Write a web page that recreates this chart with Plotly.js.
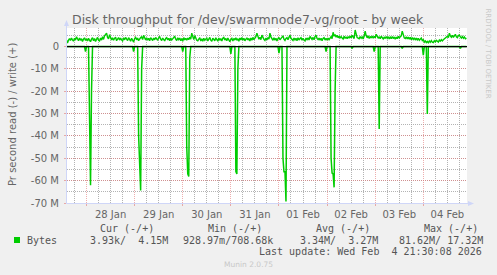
<!DOCTYPE html>
<html><head><meta charset="utf-8">
<script src="https://cdn.plot.ly/plotly-3.0.1.min.js"></script>
<style>html,body{margin:0;padding:0;background:#F0F0F0;}#chart{width:497px;height:275px;}</style>
</head><body><div id="chart"></div>
<script>
// Write (+) throughput, MB/s, one value per 30 min from 2026-01-27 14:00
const writeM = [
2.9,1.6,2.8,3.6,2.7,3.8,3.0,2.4,3.7,2.9,4.4,3.1,2.6,3.8,2.8,3.5,2.3,3.3,3.9,2.7,
3.5,2.5,3.7,2.8,2.2,3.3,4.0,2.6,3.6,2.3,3.4,4.1,2.8,2.5,3.8,2.9,4.4,3.2,4.8,5.2,
6.0,4.1,3.4,5.3,3.7,2.9,3.9,2.8,3.7,4.2,2.6,3.6,4.0,2.9,3.8,3.0,2.5,3.9,3.0,4.1,
3.2,2.7,4.0,3.1,2.4,3.7,2.9,2.0,3.6,4.1,3.0,3.8,2.6,3.7,4.0,4.3,3.1,5.0,3.4,2.9,
3.9,2.8,3.7,2.6,4.0,3.1,2.7,3.8,3.0,4.1,3.2,2.8,3.9,4.4,3.3,2.7,3.8,3.1,2.5,3.6,
4.0,3.0,3.7,2.6,3.8,2.9,3.6,4.1,4.6,3.3,2.7,3.9,3.1,3.8,2.6,3.6,2.4,4.0,3.0,3.7,
2.8,3.8,3.1,4.2,3.3,6.0,4.4,3.1,4.9,3.4,2.8,2.6,3.6,4.0,2.5,3.5,2.4,3.7,2.8,3.4,
3.8,2.5,3.6,4.1,2.9,2.3,3.7,3.0,2.6,3.9,3.1,2.4,3.8,2.8,3.6,2.5,3.7,4.1,2.9,3.6,
2.6,3.8,3.0,2.2,3.2,3.7,2.5,3.6,2.9,3.9,2.8,3.5,2.4,3.8,3.0,4.0,2.8,3.7,2.6,3.5,
3.9,2.9,3.6,2.5,3.8,2.8,4.1,3.1,3.7,4.4,6.0,4.2,3.3,4.1,3.1,5.1,3.6,3.2,2.7,3.8,
3.0,4.0,3.3,6.0,4.3,3.2,2.8,3.9,2.8,3.7,2.5,3.5,4.1,3.0,3.8,4.3,4.8,3.3,2.7,3.6,
4.0,3.1,4.1,5.1,3.7,3.2,2.7,3.8,3.0,3.7,2.6,3.9,2.9,3.6,4.0,2.8,3.7,3.0,2.5,3.8,
3.1,3.9,2.9,4.5,3.8,3.2,4.1,3.0,4.5,5.1,3.6,3.1,3.8,2.8,3.7,2.6,3.6,4.0,2.9,3.7,
2.8,3.8,3.1,4.1,4.4,3.5,6.4,4.6,5.4,4.2,5.0,3.9,4.7,3.7,4.5,3.8,3.4,4.6,3.6,4.4,
3.5,4.5,3.7,4.7,3.9,5.0,4.0,3.6,7.4,5.6,4.0,3.8,3.5,4.5,3.7,4.3,3.4,4.6,6.9,4.9,
3.9,4.8,3.6,4.5,3.8,4.7,3.7,4.6,3.9,5.5,4.1,3.7,4.4,3.5,4.6,3.8,3.4,4.3,3.6,4.5,
3.7,4.4,3.4,4.2,3.5,4.5,3.6,4.3,3.3,4.2,3.5,4.6,3.7,4.4,4.8,6.9,5.0,3.9,3.6,4.4,
3.4,4.2,3.3,4.1,3.1,4.0,3.2,3.9,2.9,3.8,3.0,3.7,2.8,3.5,3.8,2.7,3.1,2.0,2.5,1.8,
2.3,1.7,2.5,1.9,2.7,2.0,1.8,2.6,2.1,2.8,2.3,2.0,2.9,2.4,3.1,2.5,3.0,3.4,3.9,4.3,
4.6,4.0,6.0,4.8,4.2,5.0,4.1,4.8,5.5,4.4,4.0,4.9,5.2,4.3,3.8,4.5,3.7,4.3,3.5,3.8
];
// Read (-) throughput, MB/s, at listed 30-min slot numbers (zero between)
const readSlot = [0, 18,19,20, 22,23,24,25,26, 66,67,68, 71,72,73,74,75,76,
  115,116,117, 119,120,121,122,123,124, 163,164,165, 168,169,170,171,172,
  211,212,213, 215,216,217,218,219,220, 258,259,260, 263,264,265,266,267,268,269,
  284,285,286, 306,307,308, 311,312,313, 334,335,336, 355,356,357, 359,360,361,
  392,393,394, 399];
const readM = [0, 0,-2.3,0, 0,-45,-62,-20,0, 0,-2.3,0, 0,-40,-58,-64.4,-10,0,
  0,-2.3,0, 0,-45,-57,-58.1,-5,0, 0,-3.3,0, 0,-56,-57,-10,0,
  0,-3,0, 0,-50,-56,-56,-69.3,0, 0,-2.3,0, 0,-50,-56.6,-57,-63,-20,0,
  0,-0.8,0, 0,-2.3,0, 0,-36.9,0, 0,-0.8,0, 0,-3.8,0, 0,-30.2,0,
  0,-0.8,0, 0];
const yTickVals = [-70,-60,-50,-40,-30,-20,-10,0];
const yTickText = ['-70 M','-60 M','-50 M','-40 M','-30 M','-20 M','-10 M','0'];
const legendHeads = ['Cur (-/+)','Min (-/+)','Avg (-/+)','Max (-/+)'];
const legendVals = ['3.93k/  4.15M','928.97m/708.68k','3.34M/  3.27M','81.62M/ 17.32M'];
const seriesName = 'Bytes';
const lastUpdate = 'Last update: Wed Feb  4 21:30:08 2026';

const startMs = Date.UTC(2026,0,27,14,0);
const slotTime = i => new Date(startMs + i*1800000).toISOString().slice(0,16).replace('T',' ');

const W=497,H=275,L=67,R=30,T=28,B=72;
const pw=W-L-R, ph=H-T-B;
const px = x => (x-L)/pw;
const py = y => (H-B-y)/ph;
const nb = s => s.replace(/ /g,'\u00A0');

const green='#00CC00', fontc='#666666', axisc='#CFD6F8';
const mgrid='rgba(225,120,120,0.6)', grid='rgba(160,160,160,0.8)';

const traces=[
 {x: writeM.map((_,i)=>slotTime(i)), y: writeM, type:'scatter', mode:'lines', line:{color:green,width:1.4}, hoverinfo:'skip'},
 {x: readSlot.map(slotTime), y: readM, type:'scatter', mode:'lines', line:{color:green,width:1.5}, hoverinfo:'skip'}
];

const ann=[];
ann.push({text:'Disk throughput for /dev/swarmnode7-vg/root - by week', xref:'paper',yref:'paper',
  x:px(248),y:py(19),xanchor:'center',yanchor:'middle',showarrow:false,font:{family:'DejaVu Sans',size:12.5,color:fontc}});
ann.push({text:'Pr second read (-) / write (+)', xref:'paper',yref:'paper',textangle:-90,
  x:px(12),y:py(114),xanchor:'center',yanchor:'middle',showarrow:false,font:{family:'DejaVu Sans',size:10,color:fontc}});
ann.push({text:'RRDTOOL / TOBI OETIKER', xref:'paper',yref:'paper',textangle:90,
  x:px(487.5),y:py(53),xanchor:'center',yanchor:'middle',showarrow:false,font:{family:'DejaVu Sans',size:7,color:'#C8C8C8'}});
const headX=[99,207,315,423], valX=[89,182,299,398];
legendHeads.forEach((h,k)=>ann.push({text:nb(h),xref:'paper',yref:'paper',x:px(headX[k]),y:py(228),xanchor:'left',yanchor:'middle',
  showarrow:false,borderpad:0,font:{family:'DejaVu Sans Mono',size:10,color:'#555'}}));
legendVals.forEach((v,k)=>ann.push({text:nb(v),xref:'paper',yref:'paper',x:px(valX[k]),y:py(240),xanchor:'left',yanchor:'middle',
  showarrow:false,borderpad:0,font:{family:'DejaVu Sans Mono',size:10,color:'#555'}}));
ann.push({text:seriesName,xref:'paper',yref:'paper',x:px(26),y:py(240),xanchor:'left',yanchor:'middle',showarrow:false,borderpad:0,font:{family:'DejaVu Sans Mono',size:10,color:'#555'}});
ann.push({text:nb(lastUpdate),xref:'paper',yref:'paper',x:px(483),y:py(251),xanchor:'right',yanchor:'middle',showarrow:false,borderpad:0,font:{family:'DejaVu Sans Mono',size:10,color:'#555'}});
ann.push({text:'Munin 2.0.75',xref:'paper',yref:'paper',x:px(248),y:py(264),xanchor:'center',yanchor:'middle',showarrow:false,borderpad:0,font:{family:'DejaVu Sans',size:7.5,color:'#C8C8C8'}});

const shapes=[
 {type:'line',xref:'paper',yref:'y',x0:0,x1:1,y0:0,y1:0,line:{color:'#000',width:1.3},layer:'above'},
 {type:'line',xref:'paper',yref:'paper',x0:px(66.5),x1:px(66.5),y0:py(203.5),y1:py(24),line:{color:axisc,width:1},layer:'above'},
 {type:'path',xref:'paper',yref:'paper',path:`M ${px(66.5)} ${py(20)} L ${px(64)} ${py(26)} L ${px(69)} ${py(26)} Z`,fillcolor:axisc,line:{width:0},layer:'above'},
 {type:'line',xref:'paper',yref:'paper',x0:px(66.5),x1:px(470),y0:py(203.5),y1:py(203.5),line:{color:axisc,width:1},layer:'above'},
 {type:'path',xref:'paper',yref:'paper',path:`M ${px(474)} ${py(203.5)} L ${px(468)} ${py(201)} L ${px(468)} ${py(206)} Z`,fillcolor:axisc,line:{width:0},layer:'above'},
 {type:'rect',xref:'paper',yref:'paper',x0:px(14),x1:px(20),y0:py(243),y1:py(237),fillcolor:green,line:{width:0}}
];

const layout={
 width:W,height:H,margin:{l:L,r:R,t:T,b:B,pad:0},
 paper_bgcolor:'#F0F0F0',plot_bgcolor:'#FFFFFF',showlegend:false,
 font:{family:'DejaVu Sans',size:10,color:fontc},
 xaxis:{type:'date',range:['2026-01-27 14:16','2026-02-04 21:48'],tick0:'2026-01-28',dtick:86400000,
   ticklabelmode:'period',tickformat:'%d %b',showgrid:true,gridcolor:mgrid,griddash:'1px,1px',gridwidth:1,
   ticks:'outside',ticklen:2,tickcolor:mgrid,showline:false,zeroline:false,fixedrange:true,
   tickfont:{family:'DejaVu Sans',size:10,color:fontc},
   minor:{dtick:21600000,tick0:'2026-01-28',showgrid:true,gridcolor:grid,griddash:'1px,1px',gridwidth:1,ticks:''}},
 yaxis:{range:[-70,8.3],tickmode:'array',tickvals:yTickVals,ticktext:yTickText,showgrid:true,gridcolor:mgrid,griddash:'1px,1px',
   ticks:'outside',ticklen:2,tickcolor:mgrid,ticklabelstandoff:3,showline:false,zeroline:false,fixedrange:true,
   tickfont:{family:'DejaVu Sans',size:10,color:fontc},
   minor:{dtick:5,tick0:0,showgrid:true,gridcolor:grid,griddash:'1px,1px',gridwidth:1,ticks:''}},
 annotations:ann,shapes:shapes
};
Plotly.newPlot('chart',traces,layout,{staticPlot:true,displayModeBar:false});
</script></body></html>
